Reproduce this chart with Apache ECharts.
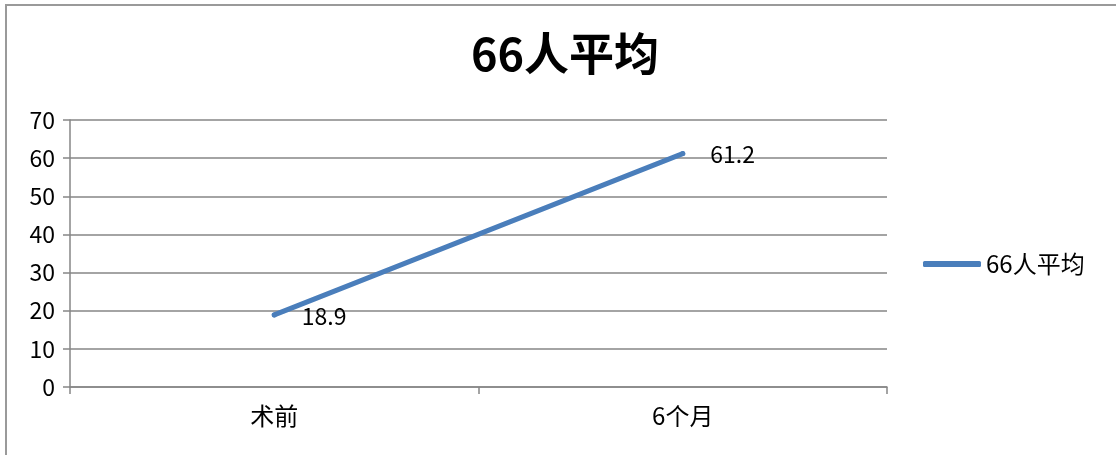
<!DOCTYPE html>
<html><head><meta charset="utf-8">
<script src="https://cdn.jsdelivr.net/npm/echarts@6/dist/echarts.min.js"></script>
<style>html,body{margin:0;padding:0;background:#fff}#c{width:1116px;height:455px}</style>
</head><body><div id="c"></div>
<script>
const titleText = '66人平均';
const categories = ['术前', '6个月'];
const seriesName = '66人平均';
const values = [18.9, 61.2];
const yTicks = [0, 10, 20, 30, 40, 50, 60, 70];

const font = '"Noto Sans CJK SC", "Open Sans", sans-serif';
const chart = echarts.init(document.getElementById('c'));
chart.setOption({
  animation: false,
  backgroundColor: '#fff',
  graphic: [{
    type: 'rect', shape: { x: 6, y: 5, width: 1130, height: 470 },
    style: { fill: 'none', stroke: '#9a9a9a', lineWidth: 2 }, silent: true
  }],
  title: {
    text: titleText, left: 560, top: 26, textAlign: 'center',
    textStyle: { fontFamily: font, fontSize: 45, fontWeight: 'bold', color: '#000' }
  },
  legend: {
    left: 918, top: 247, itemWidth: 58, itemHeight: 6, icon: 'roundRect', itemGap: 8,
    textStyle: { fontFamily: font, fontSize: 24, color: '#000' },
    data: [seriesName]
  },
  grid: { left: 70, right: 229, top: 120, bottom: 68, containLabel: false },
  xAxis: {
    type: 'category', data: categories, boundaryGap: true,
    axisLine: { lineStyle: { color: '#868686', width: 1.5 } },
    axisTick: { show: true, length: 7, lineStyle: { color: '#868686', width: 1.5 } },
    axisLabel: { fontFamily: font, fontSize: 24, color: '#000', margin: 17 },
    splitLine: { show: false }
  },
  yAxis: {
    type: 'value', min: yTicks[0], max: yTicks[yTicks.length - 1], interval: 10,
    axisLine: { show: true, lineStyle: { color: '#868686', width: 1.5 } },
    axisTick: { show: true, length: 7, lineStyle: { color: '#868686', width: 1.5 } },
    axisLabel: { fontFamily: font, fontSize: 23, color: '#000', margin: 15 },
    splitLine: { lineStyle: { color: '#868686', width: 1.5 } }
  },
  series: [{
    name: seriesName, type: 'line', data: values,
    showSymbol: true, symbol: 'circle', symbolSize: 5,
    lineStyle: { color: '#4a7ebb', width: 5, cap: 'round' },
    itemStyle: { color: '#4a7ebb', borderWidth: 0 },
    label: {
      show: true, position: 'right', distance: 25, offset: [0, 1],
      fontFamily: font, fontSize: 23, color: '#000'
    }
  }]
});
</script></body></html>
